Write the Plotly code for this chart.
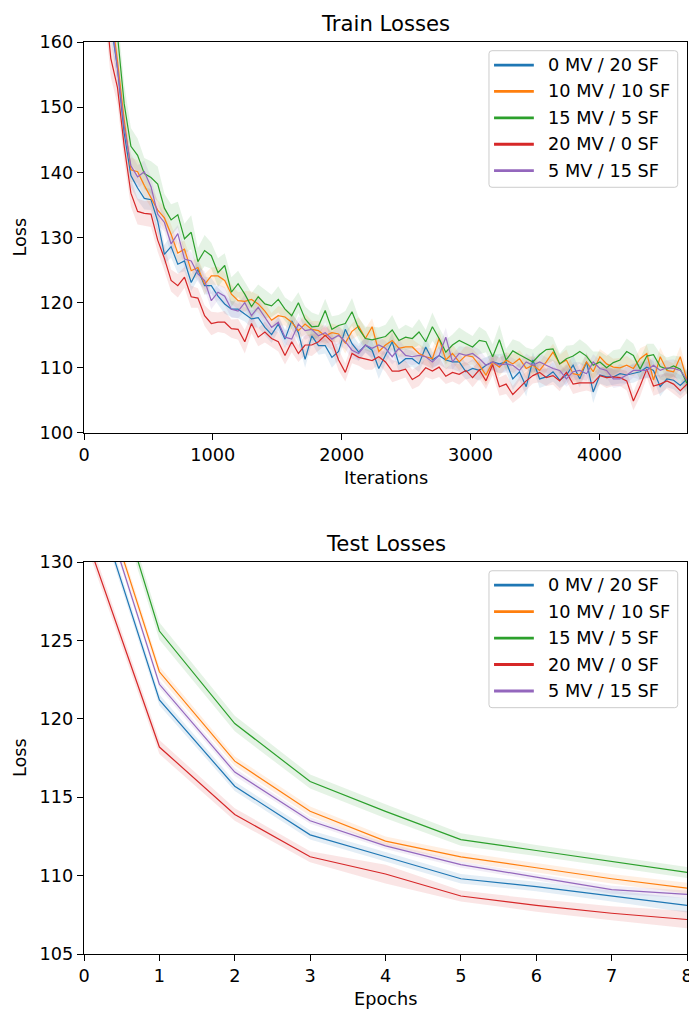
import plotly.graph_objects as go

# ---------------- data ----------------
series_labels = ["0 MV / 20 SF", "10 MV / 10 SF", "15 MV / 5 SF", "20 MV / 0 SF", "5 MV / 15 SF"]
series_colors = ["#1f77b4", "#ff7f0e", "#2ca02c", "#d62728", "#9467bd"]

# training iterations at which the loss was logged
iterations = list(range(0, 4681, 52))

train_mv0_sf20 = [
    255, 215, 188, 172, 163, 156, 146, 139.5, 137.6, 136.0,
    135.8, 132.5, 127.4, 128.6, 125.9, 126.4, 123.1, 125.1, 122.6, 122.6,
    121.0, 119.8, 119.0, 119.0, 118.2, 117.5, 117.7, 116.2, 115.1, 116.7,
    114.4, 117.2, 115.4, 111.3, 114.9, 113.4, 113.4, 111.6, 112.5, 115.9,
    113.7, 112.4, 113.5, 112.7, 109.9, 111.9, 114.0, 110.6, 111.4, 111.4,
    110.6, 113.2, 111.2, 111.9, 111.2, 110.9, 110.9, 109.4, 109.9, 109.6,
    110.4, 110.9, 110.6, 110.9, 108.3, 109.4, 107.1, 111.2, 108.3, 108.6,
    109.4, 108.1, 108.9, 110.4, 108.3, 110.9, 106.3, 108.9, 108.6, 108.6,
    109.1, 108.9, 109.1, 109.4, 110.1, 109.6, 107.1, 108.3, 108.1, 107.3,
    108.3,
]
train_mv10_sf10 = [
    262, 222, 195, 177, 165, 157, 148, 140.4, 140.1, 138.0,
    136.2, 134.2, 133.0, 130.5, 127.6, 128.2, 124.9, 125.4, 122.8, 124.1,
    124.1, 123.4, 121.3, 120.3, 120.2, 120.5, 119.8, 118.7, 117.3, 118.0,
    117.8, 117.0, 115.7, 116.7, 115.9, 115.7, 114.9, 115.4, 115.2, 113.8,
    115.6, 116.4, 114.5, 116.3, 112.5, 113.5, 114.2, 113.0, 113.2, 113.2,
    112.2, 111.7, 111.4, 114.5, 111.2, 112.2, 110.9, 111.9, 111.7, 110.4,
    108.9, 110.9, 110.1, 111.2, 110.6, 111.4, 109.9, 110.4, 109.6, 110.9,
    112.4, 110.6, 111.2, 109.1, 108.9, 110.9, 109.4, 111.7, 110.6, 110.1,
    110.0, 110.4, 109.9, 111.4, 112.2, 108.1, 111.7, 109.6, 109.4, 111.7,
    108.1,
]
train_mv15_sf5 = [
    270, 228, 200, 182, 170, 161, 150.5, 144.0, 142.6, 139.8,
    139.2, 138.2, 134.5, 132.7, 133.5, 129.8, 130.8, 126.3, 128.0, 127.2,
    124.6, 125.7, 121.6, 122.9, 121.3, 119.4, 120.9, 119.8, 119.5, 120.5,
    119.0, 118.0, 120.0, 117.5, 116.3, 116.4, 118.8, 115.9, 116.5, 116.8,
    118.6, 116.0, 114.5, 114.3, 114.6, 114.8, 115.8, 114.2, 114.7, 114.5,
    115.5, 114.0, 116.3, 114.5, 112.4, 113.5, 114.2, 113.7, 113.2, 114.2,
    114.0, 111.7, 114.3, 111.2, 112.6, 112.0, 111.5, 110.9, 112.0, 112.8,
    112.9, 110.6, 111.4, 111.8, 112.5, 111.8, 110.4, 110.9, 110.0, 110.8,
    111.2, 112.5, 111.9, 109.8, 111.8, 112.0, 110.2, 109.8, 110.3, 109.8,
    107.6,
]
train_mv20_sf0 = [
    240, 205, 184, 168, 157.5, 153, 144, 136.8, 134.0, 133.7,
    133.6, 129.6, 126.8, 123.4, 122.6, 123.9, 120.9, 120.7, 118.0, 116.8,
    117.0, 117.0, 116.0, 115.9, 114.0, 116.8, 114.7, 115.5, 114.5, 114.0,
    111.9, 114.0, 112.2, 113.5, 113.5, 114.0, 115.0, 114.0, 111.2, 109.3,
    112.2, 111.6, 111.3, 111.1, 111.7, 110.9, 109.5, 109.5, 109.8, 108.2,
    108.8, 110.0, 109.5, 110.1, 108.7, 109.3, 109.0, 109.6, 108.5, 109.7,
    108.0, 110.5, 107.1, 107.5, 105.9, 107.0, 108.0, 108.8, 109.3, 108.5,
    108.8, 108.0, 109.3, 107.5, 107.7, 107.7, 107.7, 108.8, 108.5, 108.6,
    108.5, 108.0, 104.9, 107.2, 109.8, 107.2, 107.5, 108.0, 107.5, 106.5,
    107.5,
]
train_mv5_sf15 = [
    250, 212, 188, 172, 164, 156, 147, 141.0, 139.3, 140.1,
    137.8, 133.6, 132.3, 129.0, 130.6, 126.7, 126.4, 124.4, 123.4, 120.3,
    121.6, 121.0, 119.0, 118.7, 120.0, 118.0, 119.3, 117.7, 116.2, 117.0,
    114.7, 114.4, 116.7, 115.7, 115.9, 114.9, 115.4, 114.4, 115.0, 114.0,
    112.7, 112.2, 113.5, 113.0, 113.5, 113.0, 111.7, 113.0, 111.9, 111.7,
    111.9, 111.7, 110.9, 111.9, 114.7, 110.9, 112.2, 111.9, 112.2, 111.4,
    110.4, 110.9, 110.4, 110.6, 110.4, 109.6, 110.9, 110.4, 110.9, 110.4,
    109.9, 109.6, 108.3, 109.4, 109.6, 109.1, 110.9, 109.9, 109.6, 108.3,
    108.3, 108.9, 109.6, 109.6, 109.6, 110.4, 109.6, 110.0, 109.9, 109.6,
    108.1,
]

# standard deviation across runs (shaded band = mean +/- std)
train_sd_mv0_sf20 = [
    5.0, 4.2, 3.6, 3.0, 2.6, 2.3, 2.0, 1.8, 1.9, 1.7,
    1.6, 1.8, 1.5, 1.7, 1.4, 1.6, 1.3, 1.5, 1.4, 1.2,
    1.3, 1.5, 1.2, 1.4, 1.1, 1.3, 1.5, 1.2, 1.3, 1.1,
    1.4, 1.2, 1.5, 1.3, 1.1, 1.4, 1.2, 1.6, 1.3, 1.2,
    1.5, 1.3, 1.1, 1.4, 1.6, 1.2, 1.4, 1.3, 1.5, 1.2,
    1.3, 1.6, 1.2, 1.4, 1.3, 1.1, 1.5, 1.2, 1.4, 1.6,
    1.3, 1.2, 1.5, 1.4, 1.7, 1.3, 1.5, 1.2, 1.4, 1.3,
    1.5, 1.2, 1.4, 1.6, 1.3, 1.5, 1.7, 1.3, 1.4, 1.2,
    1.5, 1.3, 1.4, 1.2, 1.6, 1.4, 1.5, 1.3, 1.4, 1.6,
    1.5,
]
train_sd_mv10_sf10 = [
    5.5, 4.5, 3.8, 3.2, 2.8, 2.4, 2.1, 1.9, 1.7, 1.8,
    1.6, 1.5, 1.7, 1.4, 1.6, 1.3, 1.5, 1.4, 1.6, 1.3,
    1.4, 1.2, 1.5, 1.3, 1.6, 1.2, 1.4, 1.3, 1.1, 1.5,
    1.3, 1.4, 1.2, 1.6, 1.3, 1.5, 1.2, 1.4, 1.3, 1.6,
    1.2, 1.4, 1.5, 1.3, 1.6, 1.2, 1.4, 1.3, 1.5, 1.2,
    1.4, 1.3, 1.6, 1.2, 1.5, 1.4, 1.3, 1.5, 1.2, 1.4,
    1.6, 1.3, 1.4, 1.2, 1.5, 1.3, 1.6, 1.4, 1.2, 1.5,
    1.3, 1.4, 1.6, 1.2, 1.5, 1.3, 1.4, 1.2, 1.6, 1.3,
    1.5, 1.4, 1.2, 1.6, 1.3, 1.8, 1.4, 1.5, 1.3, 1.6,
    1.4,
]
train_sd_mv15_sf5 = [
    6.5, 5.5, 4.6, 4.0, 3.5, 3.2, 3.0, 2.8, 2.6, 2.4,
    2.5, 2.7, 2.2, 2.4, 2.0, 2.3, 2.6, 2.1, 2.4, 2.0,
    2.2, 1.9, 2.3, 2.0, 1.8, 2.1, 1.9, 2.2, 1.7, 2.0,
    1.8, 2.1, 1.6, 1.9, 2.2, 1.7, 1.8, 2.0, 1.6, 1.9,
    2.1, 1.7, 1.8, 2.0, 1.6, 1.8, 2.3, 1.7, 1.9, 1.6,
    2.0, 1.8, 2.2, 1.7, 1.9, 1.6, 2.0, 1.8, 1.7, 2.1,
    1.6, 1.9, 2.3, 1.7, 1.8, 2.0, 1.6, 1.9, 1.7, 2.2,
    1.8, 1.6, 2.0, 1.7, 1.9, 1.8, 2.1, 1.6, 1.8, 1.9,
    1.7, 2.0, 1.8, 1.6, 1.9, 1.7, 2.0, 1.8, 1.6, 1.9,
    1.7,
]
train_sd_mv20_sf0 = [
    5.5, 4.6, 3.9, 3.3, 2.9, 2.6, 2.3, 2.1, 2.0, 1.9,
    2.0, 1.8, 1.9, 1.7, 1.8, 1.6, 1.7, 1.5, 1.6, 1.8,
    1.5, 1.7, 1.4, 1.6, 1.8, 1.5, 1.4, 1.6, 1.3, 1.5,
    1.4, 1.6, 1.3, 1.5, 1.7, 1.4, 1.5, 1.3, 1.6, 1.4,
    1.5, 1.3, 1.6, 1.4, 1.2, 1.5, 1.7, 1.4, 1.3, 1.5,
    1.6, 1.4, 1.3, 1.5, 1.2, 1.4, 1.6, 1.3, 1.5, 1.4,
    1.3, 1.6, 1.4, 1.5, 1.3, 1.6, 1.4, 1.2, 1.5, 1.3,
    1.4, 1.6, 1.3, 1.5, 1.4, 1.2, 1.5, 1.3, 1.6, 1.4,
    1.3, 1.5, 1.4, 1.6, 1.3, 1.5, 1.4, 1.2, 1.5, 1.3,
    1.4,
]
train_sd_mv5_sf15 = [
    5.2, 4.3, 3.7, 3.1, 2.7, 2.4, 2.1, 1.9, 1.8, 1.7,
    1.5, 1.7, 1.4, 1.6, 1.3, 1.5, 1.4, 1.2, 1.4, 1.3,
    1.2, 1.4, 1.3, 1.1, 1.3, 1.2, 1.4, 1.1, 1.3, 1.2,
    1.1, 1.3, 1.2, 1.4, 1.1, 1.2, 1.3, 1.1, 1.4, 1.2,
    1.3, 1.1, 1.2, 1.4, 1.3, 1.1, 1.2, 1.4, 1.1, 1.3,
    1.2, 1.4, 1.1, 1.3, 1.5, 1.2, 1.1, 1.3, 1.2, 1.4,
    1.1, 1.3, 1.2, 1.4, 1.1, 1.2, 1.3, 1.1, 1.4, 1.2,
    1.3, 1.1, 1.2, 1.4, 1.3, 1.1, 1.2, 1.3, 1.1, 1.4,
    1.2, 1.3, 1.1, 1.4, 1.2, 1.3, 1.1, 1.2, 1.4, 1.3,
    1.2,
]

epochs = [0, 1, 2, 3, 4, 5, 6, 7, 8]
test_mv0_sf20 = [136.2, 121.2, 115.7, 112.6, 111.2, 109.8, 109.3, 108.7, 108.1]
test_mv10_sf10 = [138.0, 123.0, 117.3, 114.1, 112.2, 111.2, 110.5, 109.8, 109.2]
test_mv15_sf5 = [141.3, 125.6, 119.7, 116.0, 114.1, 112.3, 111.6, 110.9, 110.2]
test_mv20_sf0 = [132.0, 118.2, 113.9, 111.2, 110.1, 108.7, 108.1, 107.6, 107.2]
test_mv5_sf15 = [137.4, 122.2, 116.6, 113.5, 111.9, 110.7, 109.9, 109.1, 108.8]

test_sd_mv0_sf20 = [0.4, 0.35, 0.3, 0.3, 0.3, 0.3, 0.3, 0.35, 0.45]
test_sd_mv10_sf10 = [0.4, 0.35, 0.3, 0.3, 0.3, 0.3, 0.3, 0.3, 0.35]
test_sd_mv15_sf5 = [0.6, 0.55, 0.5, 0.45, 0.45, 0.4, 0.35, 0.35, 0.35]
test_sd_mv20_sf0 = [0.5, 0.45, 0.4, 0.35, 0.6, 0.35, 0.4, 0.45, 0.55]
test_sd_mv5_sf15 = [0.3, 0.25, 0.25, 0.2, 0.2, 0.2, 0.2, 0.25, 0.25]

train_means = [train_mv0_sf20, train_mv10_sf10, train_mv15_sf5, train_mv20_sf0, train_mv5_sf15]
train_sds = [train_sd_mv0_sf20, train_sd_mv10_sf10, train_sd_mv15_sf5, train_sd_mv20_sf0, train_sd_mv5_sf15]
test_means = [test_mv0_sf20, test_mv10_sf10, test_mv15_sf5, test_mv20_sf0, test_mv5_sf15]
test_sds = [test_sd_mv0_sf20, test_sd_mv10_sf10, test_sd_mv15_sf5, test_sd_mv20_sf0, test_sd_mv5_sf15]

FONT = "DejaVu Sans"
TEXT_SIZE = 17.7
TITLE_SIZE = 21.2


def rgba(hex_color, alpha):
    h = hex_color.lstrip("#")
    r, g, b = int(h[0:2], 16), int(h[2:4], 16), int(h[4:6], 16)
    return f"rgba({r},{g},{b},{alpha})"


fig = go.Figure()


def add_panel(xs, means, sds, xaxis, yaxis):
    # shaded std bands first so the mean lines sit on top
    for mean, sd, color in zip(means, sds, series_colors):
        upper = [m + s for m, s in zip(mean, sd)]
        lower = [m - s for m, s in zip(mean, sd)]
        fig.add_trace(go.Scatter(
            x=list(xs) + list(xs)[::-1], y=upper + lower[::-1],
            fill="toself", fillcolor=rgba(color, 0.12), mode="lines",
            line=dict(width=0, color=rgba(color, 0)), hoverinfo="skip",
            showlegend=False, xaxis=xaxis, yaxis=yaxis))
    for mean, color, name in zip(means, series_colors, series_labels):
        fig.add_trace(go.Scatter(
            x=xs, y=mean, mode="lines", name=name,
            line=dict(color=color, width=1.2), showlegend=False,
            xaxis=xaxis, yaxis=yaxis))


add_panel(iterations, train_means, train_sds, "x", "y")
add_panel(epochs, test_means, test_sds, "x2", "y2")

axis_style = dict(
    showline=True, mirror=True, linecolor="black", linewidth=1.3,
    ticks="outside", ticklen=6, tickwidth=1.3, tickcolor="black",
    showgrid=False, zeroline=False, ticklabeloverflow="allow", automargin=False,
    tickfont=dict(family=FONT, size=TEXT_SIZE, color="black"),
)

fig.update_layout(
    width=689, height=1012,
    margin=dict(l=84, r=2, t=42, b=58, autoexpand=False),
    paper_bgcolor="white", plot_bgcolor="white",
    showlegend=False,
    xaxis=dict(domain=[0, 1], anchor="y", range=[0, 4680],
               tickvals=[0, 1000, 2000, 3000, 4000], **axis_style),
    yaxis=dict(domain=[0.5713, 1], anchor="x", range=[100, 160],
               tickvals=[100, 110, 120, 130, 140, 150, 160], **axis_style),
    xaxis2=dict(domain=[0, 1], anchor="y2", range=[0, 8],
                tickvals=epochs, **axis_style),
    yaxis2=dict(domain=[0, 0.4298], anchor="x2", range=[105, 130],
                tickvals=[105, 110, 115, 120, 125, 130], **axis_style),
)


def rounded_box(x0, x1, y0, y1, rx, ry):
    return (f"M {x0 + rx},{y0} L {x1 - rx},{y0} Q {x1},{y0} {x1},{y0 + ry} "
            f"L {x1},{y1 - ry} Q {x1},{y1} {x1 - rx},{y1} "
            f"L {x0 + rx},{y1} Q {x0},{y1} {x0},{y1 - ry} "
            f"L {x0},{y0 + ry} Q {x0},{y0} {x0 + rx},{y0} Z")


annotations = []
shapes = []
panels = [("x", "y", "Train Losses", "Iterations"), ("x2", "y2", "Test Losses", "Epochs")]
for xa, ya, title, xlabel in panels:
    xd, yd = f"{xa} domain", f"{ya} domain"
    annotations.append(dict(text=title, xref=xd, yref=yd, x=0.5, y=1, yanchor="middle",
                            yshift=19, showarrow=False,
                            font=dict(family=FONT, size=TITLE_SIZE, color="black")))
    annotations.append(dict(text=xlabel, xref=xd, yref=yd, x=0.5, y=0, yanchor="middle",
                            yshift=-45, showarrow=False,
                            font=dict(family=FONT, size=TEXT_SIZE, color="black")))
    annotations.append(dict(text="Loss", xref="paper", yref=yd, x=-0.1061, y=0.5,
                            xanchor="center", yanchor="middle", textangle=-90,
                            showarrow=False, font=dict(family=FONT, size=TEXT_SIZE, color="black")))
    # legend frame with slightly rounded corners
    shapes.append(dict(type="path", xref=xd, yref=yd,
                       path=rounded_box(0.6716, 0.9846, 0.6284, 0.9777, 0.005, 0.0077),
                       line=dict(color="#cccccc", width=1),
                       fillcolor="rgba(255,255,255,0.8)", layer="above"))
    for i, (name, color) in enumerate(zip(series_labels, series_colors)):
        yy = 0.941 - i * 0.0675
        shapes.append(dict(type="line", xref=xd, yref=yd, x0=0.680, x1=0.746,
                           y0=yy, y1=yy, line=dict(color=color, width=2.8),
                           layer="above"))
        annotations.append(dict(text=name, xref=xd, yref=yd, x=0.766, y=yy,
                                xanchor="left", yanchor="middle", showarrow=False,
                                font=dict(family=FONT, size=TEXT_SIZE, color="black")))

fig.update_layout(annotations=annotations, shapes=shapes)

fig.write_html("out.html")
